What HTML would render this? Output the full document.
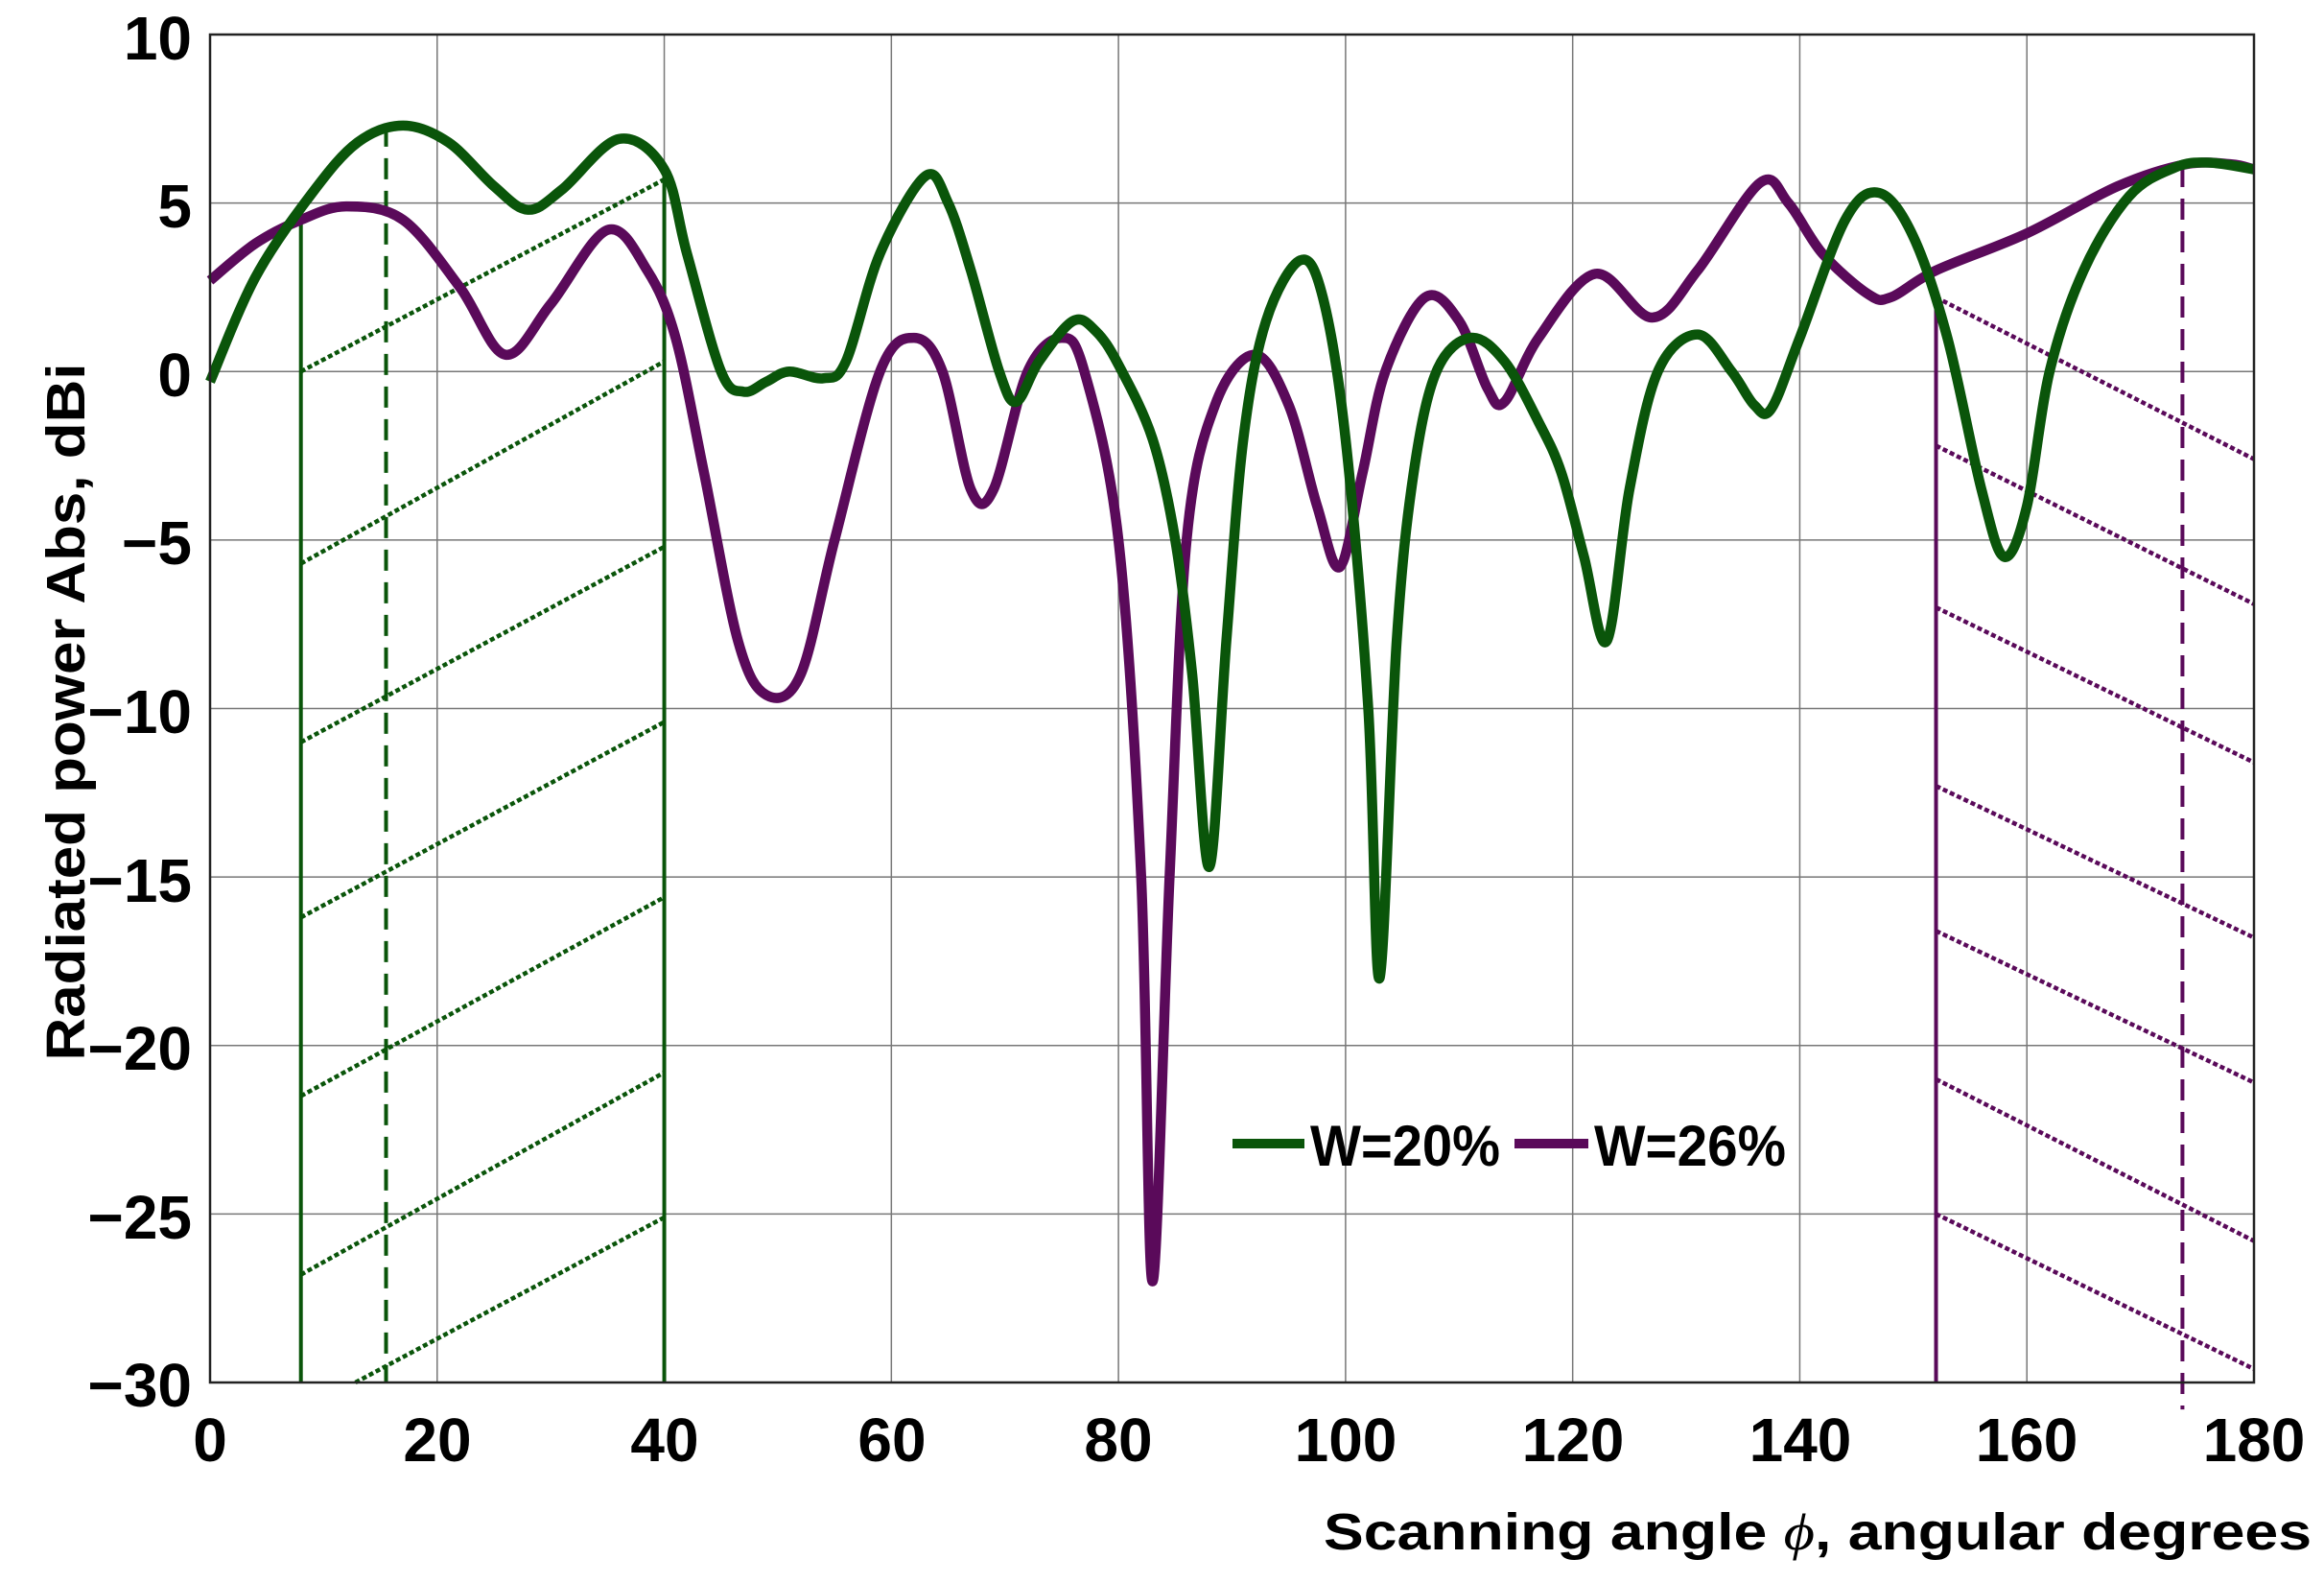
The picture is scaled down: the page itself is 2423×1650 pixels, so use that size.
<!DOCTYPE html>
<html><head><meta charset="utf-8"><style>
html,body{margin:0;padding:0;background:#fff;}
svg{display:block;}
text{font-family:"Liberation Sans",Arial,sans-serif;font-weight:bold;fill:#000;}
</style></head><body>
<svg id="s" width="2423" height="1650" viewBox="0 0 2423 1650" xmlns="http://www.w3.org/2000/svg">
<rect width="2423" height="1650" fill="#fff"/>
<g id="grid" stroke="#777" stroke-width="1.5"></g>
<g id="data"></g>
<rect x="219" y="36" width="2131" height="1405" fill="none" stroke="#222" stroke-width="2.5"/>
<g font-size="64" text-anchor="end">
<text x="200" y="62">10</text>
<text x="200" y="237">5</text>
<text x="200" y="413">0</text>
<text x="200" y="588">−5</text>
<text x="200" y="764">−10</text>
<text x="200" y="940">−15</text>
<text x="200" y="1115">−20</text>
<text x="200" y="1291">−25</text>
<text x="200" y="1466">−30</text>
</g>
<g font-size="64" text-anchor="middle">
<text x="219" y="1523">0</text>
<text x="456" y="1523">20</text>
<text x="693" y="1523">40</text>
<text x="930" y="1523">60</text>
<text x="1166" y="1523">80</text>
<text x="1403" y="1523">100</text>
<text x="1640" y="1523">120</text>
<text x="1877" y="1523">140</text>
<text x="2113" y="1523">160</text>
<text x="2350" y="1523">180</text>
</g>
<text x="2410" y="1615" font-size="54" text-anchor="end" textLength="1030" lengthAdjust="spacingAndGlyphs">Scanning angle <tspan font-family="Liberation Serif" font-style="italic" font-weight="normal">ϕ</tspan>, angular degrees</text>
<text transform="translate(88,742) rotate(-90)" font-size="57" text-anchor="middle" textLength="727" lengthAdjust="spacingAndGlyphs">Radiated power Abs, dBi</text>
<line x1="1285" y1="1192" x2="1360" y2="1192" stroke="#0a550a" stroke-width="10"/>
<text x="1366" y="1215" font-size="60" textLength="198" lengthAdjust="spacingAndGlyphs">W=20%</text>
<line x1="1579" y1="1192" x2="1656" y2="1192" stroke="#5a0a5a" stroke-width="10"/>
<text x="1662" y="1215" font-size="60" textLength="200" lengthAdjust="spacingAndGlyphs">W=26%</text>
</svg>
<script>
(function(){
var X=function(d){return 219+d*2131/180;},Y=function(v){return 36+(10-v)*1405/40;};
var NS="http://www.w3.org/2000/svg";
function el(p,tag,a){var e=document.createElementNS(NS,tag);for(var k in a)e.setAttribute(k,a[k]);p.appendChild(e);return e;}
var g=document.getElementById("grid"),d=document.getElementById("data");
for(var i=20;i<180;i+=20)el(g,"line",{x1:X(i),y1:36,x2:X(i),y2:1441});
for(var v=5;v>-30;v-=5)el(g,"line",{x1:219,y1:Y(v),x2:2350,y2:Y(v)});
function line(x1,y1,x2,y2,c,w,da){var a={x1:X(x1),y1:Y(y1),x2:X(x2),y2:Y(y2),stroke:c,"stroke-width":w};if(da)a["stroke-dasharray"]=da;el(d,"line",a);}
var G="#0a550a",P="#5a0a5a";
var gs=[0,-5.7,-11,-16.2,-21.5,-26.8],ge=[5.7,0.3,-5.2,-10.4,-15.6,-20.8];
for(i=0;i<gs.length;i++)line(8,gs[i],40,ge[i],G,4.5,"5 3");
line(12.8,-30,40,-25.1,G,4.5,"5 3");
var ps=[2.2,-2.2,-7,-12.3,-16.6,-21,-25],pe=[-2.6,-6.9,-11.6,-16.8,-21.1,-25.8,-29.6];
for(i=0;i<ps.length;i++)line(152,ps[i],180,pe[i],P,4.5,"5 3");
line(8,4.6,8,-30,G,4);line(40,6,40,-30,G,4);line(15.5,7.3,15.5,-30,G,4,"22 12");
line(152,2.5,152,-30,P,4);line(173.7,6.1,173.7,-30.8,P,4,"22 12");
function curve(pts,c){var p=pts.map(function(a){return [X(a[0]),Y(a[1])];});
var s="M"+p[0][0]+","+p[0][1];
for(var i=0;i<p.length-1;i++){var p0=p[i-1]||p[i],p1=p[i],p2=p[i+1],p3=p[i+2]||p2;
var t=0.5/3;s+=" C"+(p1[0]+(p2[0]-p0[0])*t)+","+(p1[1]+(p2[1]-p0[1])*t)+" "+(p2[0]-(p3[0]-p1[0])*t)+","+(p2[1]-(p3[1]-p1[1])*t)+" "+p2[0]+","+p2[1];}
el(d,"path",{d:s,fill:"none",stroke:c,"stroke-width":10.5,"stroke-linejoin":"round"});}
curve([[0,2.7],[4,3.8],[8,4.5],[12,4.9],[17,4.5],[22,2.5],[26,0.5],[30,2],[35,4.2],[38.5,3],[41,1],[43.5,-3],[46.5,-8],[49,-9.6],[52,-9],[55,-5],[59,0],[62,1],[64.5,0],[67,-3.5],[69,-3.5],[72,0],[75,1],[77,0],[80,-5],[82,-15],[83,-27],[84.5,-15],[86,-5],[88.5,-1],[92,0.5],[95,-1],[97.5,-4],[99.5,-5.8],[101.5,-3],[103.5,0],[107,2.2],[110,1.5],[112.5,-0.5],[114,-0.9],[117,1],[122,2.9],[127,1.6],[131,3],[136.5,5.6],[139,5],[142,3.5],[146,2.3],[148,2.2],[152,3],[160,4.1],[168,5.5],[174,6.15],[178,6.15],[180,6]],P);
curve([[0,-0.3],[4,2.8],[9,5.3],[13,6.8],[17,7.3],[21,6.8],[25,5.5],[28,4.8],[31,5.4],[36,6.9],[40,6],[42,3.5],[45,0],[47,-0.6],[49,-0.3],[51,0],[54,-0.2],[56,0.3],[59,3.5],[63,5.8],[65,5],[67,3],[69.5,0],[71,-0.9],[73,0.3],[76,1.5],[78,1.2],[80,0.2],[83,-2],[85,-5],[86.5,-9],[88,-14.7],[89.5,-8],[91,-2],[93,1.5],[96,3.3],[98,2.2],[100,-2],[102,-10],[103,-18],[104.5,-8],[106,-3],[108,0],[111,1],[114,0.3],[117,-1.5],[119,-3],[121,-5.5],[123,-8],[125,-3.5],[127.5,0],[131,1.1],[134,0],[136,-1],[137.5,-1.1],[140,1],[144,4.5],[147,5.3],[150,4],[153,1],[156,-3.5],[158,-5.5],[160,-4],[162,0],[165,3],[169,5.2],[173,6.05],[176,6.2],[180,6]],G);
})();
</script>
</body></html>
